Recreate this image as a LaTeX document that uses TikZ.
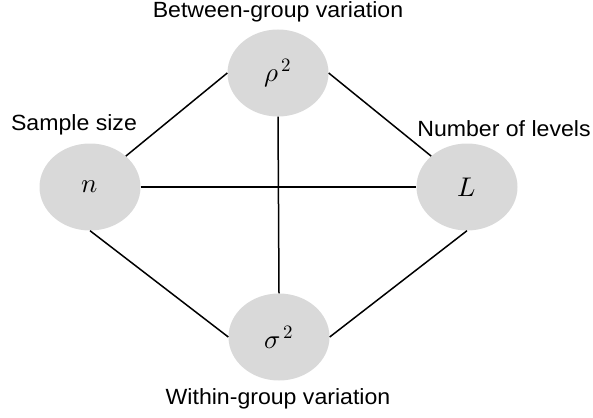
\documentclass[tikz,border=0pt]{standalone}
\usepackage{fontspec}
\usepackage{unicode-math}
\setmainfont{Liberation Sans}[FakeStretch=1.05]
\setmathfont{latinmodern-math.otf}
\usetikzlibrary{shapes.geometric}
\definecolor{nodegray}{RGB}{217,217,217}

\begin{document}
\begin{tikzpicture}[x=1pt, y=-1pt,
  param/.style={ellipse, minimum width=101pt, minimum height=87pt, inner sep=0pt, fill=nodegray, font=\fontsize{27}{30}\selectfont},
  desc/.style={anchor=base, inner sep=0pt, font=\fontsize{22}{26}\selectfont},
  link/.style={line width=1.5pt}]
  \useasboundingbox (0,0) rectangle (593,417);

  \node (size) [param] at (90,187) {$n$};
  \node (between) [param] at (278,73) {$\rho^{\,2}$};
  \node (levels) [param] at (467,187) {$L$};
  \node (within) [param] at (279,337) {$\sigma^{\,2}$};

  \node (sizetxt) [desc] at (74,130) {Sample size};
  \node (betweentxt) [desc] at (278,18) {Between-group variation};
  \node (levelstxt) [desc] at (504,136) {Number of levels};
  \node (withintxt) [desc] at (278,404) {Within-group variation};

  \draw [link] (size.north east) -- (between.west);
  \draw [link] (between.east) -- (levels.north west);
  \draw [link] (size.south) -- (within.west);
  \draw [link] (within.east) -- (levels.south);
  \draw [link] (size.east) -- (levels.west);
  \draw [link] (between.south) -- (within.north);
\end{tikzpicture}
\end{document}
